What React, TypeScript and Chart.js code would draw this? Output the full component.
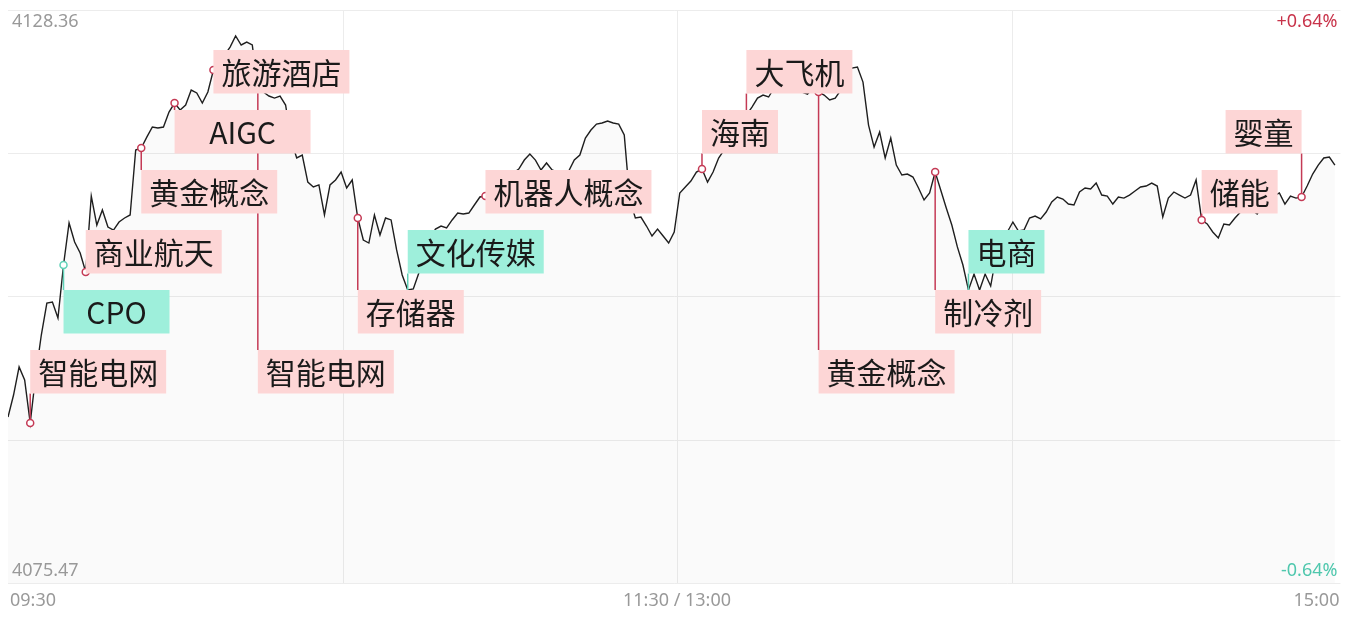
import React, { useEffect, useRef } from "react";
import { Chart, registerables } from "chart.js";

Chart.register(...registerables);

// ---------- data ----------
const Y_MIN = 4075.47;
const Y_MAX = 4128.36;
const X_SLOTS = 241;
const yGridValues = [4075.47, 4088.6925, 4101.915, 4115.1375, 4128.36];
const tickLabels = ["09:30", "11:30 / 13:00", "15:00"];
const topLeftLabel = "4128.36";
const bottomLeftLabel = "4075.47";
const topRightLabel = "+0.64%";
const bottomRightLabel = "-0.64%";

const prices = [
  4090.79, 4092.82, 4095.41, 4094.21, 4090.24, 4094.67, 4098.36, 4101.31, 4101.41, 4099.93,
  4104.82, 4108.70, 4106.95, 4105.93, 4104.17, 4111.19, 4108.51, 4109.90, 4108.33, 4108.05,
  4108.79, 4109.16, 4109.44, 4115.44, 4115.62, 4116.63, 4117.56, 4117.47, 4117.56, 4118.94,
  4119.77, 4119.13, 4119.59, 4120.97, 4120.70, 4119.77, 4120.79, 4122.82, 4123.56, 4124.20,
  4124.94, 4125.96, 4125.13, 4125.40, 4125.13, 4121.16, 4120.79, 4120.42, 4120.23, 4120.42,
  4119.59, 4116.36, 4114.70, 4114.97, 4112.48, 4112.02, 4112.21, 4109.44, 4112.21, 4112.67,
  4113.40, 4111.93, 4112.67, 4109.16, 4107.13, 4106.85, 4109.44, 4107.59, 4109.16, 4108.98,
  4106.21, 4103.90, 4102.51, 4102.61, 4104.08, 4105.74, 4107.31, 4108.14, 4108.42, 4108.24,
  4108.98, 4109.62, 4109.53, 4109.62, 4110.36, 4111.10, 4111.19, 4111.56, 4112.11, 4112.48,
  4112.85, 4113.31, 4113.68, 4114.51, 4115.07, 4114.51, 4113.59, 4114.24, 4113.59, 4113.40,
  4113.22, 4113.50, 4114.51, 4114.97, 4116.54, 4117.28, 4117.83, 4117.93, 4118.11, 4117.93,
  4117.83, 4116.82, 4110.82, 4109.16, 4109.25, 4108.42, 4107.50, 4108.14, 4107.50, 4106.85,
  4107.87, 4111.47, 4112.02, 4112.57, 4113.40, 4113.68, 4112.48, 4113.40, 4114.70, 4115.44,
  4116.36, 4117.28, 4118.20, 4118.66, 4119.40, 4120.23, 4120.51, 4120.33, 4121.16, 4121.43,
  4121.16, 4121.34, 4120.97, 4120.79, 4120.60, 4121.16, 4120.79, 4120.51, 4120.05, 4120.23,
  4120.97, 4121.90, 4123.00, 4123.10, 4121.71, 4117.74, 4115.71, 4117.10, 4114.70, 4116.54,
  4114.05, 4113.13, 4113.22, 4112.94, 4111.93, 4110.82, 4111.47, 4113.40, 4111.75, 4110.08,
  4108.51, 4106.49, 4104.82, 4102.51, 4103.99, 4102.51, 4103.99, 4102.88, 4105.74, 4107.13,
  4107.87, 4108.79, 4107.96, 4108.05, 4109.16, 4109.34, 4109.07, 4109.71, 4110.64, 4111.10,
  4110.91, 4110.45, 4110.36, 4111.56, 4111.93, 4111.84, 4112.39, 4111.28, 4111.19, 4110.45,
  4111.10, 4111.00, 4111.28, 4111.65, 4112.02, 4112.11, 4112.39, 4112.11, 4109.25, 4111.00,
  4111.56, 4111.28, 4111.00, 4111.28, 4112.67, 4108.98, 4108.61, 4107.87, 4107.31, 4108.61,
  4108.51, 4109.16, 4109.71, 4110.08, 4109.90, 4109.53, 4110.36, 4110.82, 4111.19, 4111.47,
  4110.45, 4111.19, 4111.00, 4111.10, 4112.11, 4113.22, 4114.05, 4114.70, 4114.79, 4114.05,
];

// event tags
const tagNames = [
  "智能电网", "CPO", "商业航天", "黄金概念", "AIGC", "旅游酒店", "智能电网", "存储器", "文化传媒",
  "机器人概念", "海南", "大飞机", "黄金概念", "制冷剂", "电商", "储能", "婴童",
];
const tagIndex = [4, 10, 14, 24, 30, 37, 45, 63, 72, 86, 125, 133, 146, 167, 173, 215, 233];
const tagKind = [
  "up", "down", "up", "up", "up", "up", "up", "up", "down",
  "up", "up", "up", "up", "up", "down", "up", "up",
];

// ---------- layout / style ----------
const tagRow = [5, 4, 3, 2, 1, 0, 5, 4, 3, 2, 1, 0, 5, 4, 3, 2, 1];
const tagAlignRight = [false, false, false, false, false, false, false, false, false, false, false, false, false, false, false, false, true];
const tagDot = [true, true, true, true, true, true, true, true, false, true, true, true, true, true, false, true, true];
const STYLE = {
  up: { box: "#fdd6d6", line: "#c43a55" },
  down: { box: "#9eefdb", line: "#5fd0b6" },
};

const tagPlugin = {
  id: "tags",
  beforeDatasetsDraw(chart: any) {
    const { ctx, chartArea: a, scales } = chart;
    const ys = scales.y;
    const xs = scales.x;
    const hRight = xs.getPixelForValue(X_SLOTS - 1);
    ctx.save();
    ctx.strokeStyle = "#ececec";
    ctx.lineWidth = 1;
    yGridValues.forEach((v) => {
      const y = Math.round(ys.getPixelForValue(v)) + 0.5;
      ctx.beginPath();
      ctx.moveTo(a.left, y);
      ctx.lineTo(hRight, y);
      ctx.stroke();
    });
    [1, 2, 3].forEach((k) => {
      const x = Math.round(a.left + (a.width * k) / 4) + 0.5;
      ctx.beginPath();
      ctx.moveTo(x, a.top);
      ctx.lineTo(x, a.bottom);
      ctx.stroke();
    });
    ctx.restore();
  },
  afterDatasetsDraw(chart: any) {
    const { ctx, chartArea: a, scales } = chart;
    const xs = scales.x, ys = scales.y;
    const boxH = 43.5;
    const geo = tagNames.map((name, k) => {
      const px = xs.getPixelForValue(tagIndex[k]);
      const py = ys.getPixelForValue(prices[tagIndex[k]]);
      const w = name.length * 30 + 16;
      const top = a.top + 40 + tagRow[k] * 60;
      const left = tagAlignRight[k] ? px - w : px;
      return { px, py, w, top, left };
    });
    ctx.save();
    geo.forEach((g, k) => {
      const st = (STYLE as any)[tagKind[k]];
      ctx.strokeStyle = st.line;
      ctx.lineWidth = 1.5;
      let y2: number | null = null;
      if (g.py > g.top + boxH) y2 = g.top + boxH;
      else if (g.py < g.top) y2 = g.top;
      if (y2 !== null) {
        ctx.beginPath();
        ctx.moveTo(g.px, g.py);
        ctx.lineTo(g.px, y2);
        ctx.stroke();
      }
    });
    geo.forEach((g, k) => {
      if (!tagDot[k]) return;
      const st = (STYLE as any)[tagKind[k]];
      ctx.beginPath();
      ctx.arc(g.px, g.py, 3.5, 0, Math.PI * 2);
      ctx.fillStyle = "#ffffff";
      ctx.fill();
      ctx.strokeStyle = st.line;
      ctx.lineWidth = 1.5;
      ctx.stroke();
    });
    ctx.font = '30px "Noto Sans CJK SC", "Noto Sans", sans-serif';
    ctx.textAlign = "center";
    ctx.textBaseline = "middle";
    geo.forEach((g, k) => {
      const st = (STYLE as any)[tagKind[k]];
      ctx.fillStyle = st.box;
      ctx.fillRect(g.left, g.top, g.w, boxH);
      ctx.fillStyle = "#1a1a1a";
      ctx.fillText(tagNames[k], g.left + g.w / 2, g.top + boxH / 2 + 1);
    });
    ctx.restore();
  },
  afterDraw(chart: any) {
    const { ctx, chartArea: a, scales } = chart;
    const xs = scales.x;
    const rightEdge = xs.getPixelForValue(X_SLOTS - 1);
    ctx.save();
    ctx.font = '18px "Noto Sans", sans-serif';
    ctx.textBaseline = "alphabetic";
    ctx.fillStyle = "#999999";
    ctx.textAlign = "left";
    ctx.fillText(topLeftLabel, a.left + 4, a.top + 17);
    ctx.fillText(bottomLeftLabel, a.left + 4, a.bottom - 7);
    ctx.textAlign = "right";
    ctx.fillStyle = "#c8334a";
    ctx.fillText(topRightLabel, rightEdge - 3, a.top + 17);
    ctx.fillStyle = "#4fc7ad";
    ctx.fillText(bottomRightLabel, rightEdge - 3, a.bottom - 7);
    ctx.fillStyle = "#999999";
    ctx.textAlign = "left";
    ctx.fillText(tickLabels[0], a.left + 2, a.bottom + 23);
    ctx.textAlign = "center";
    ctx.fillText(tickLabels[1], a.left + a.width / 2, a.bottom + 23);
    ctx.textAlign = "right";
    ctx.fillText(tickLabels[2], rightEdge - 1, a.bottom + 23);
    ctx.restore();
  },
};

export default function App() {
  const ref = useRef<HTMLCanvasElement | null>(null);
  useEffect(() => {
    if (!ref.current) return;
    const chart = new Chart(ref.current, {
      type: "line",
      data: {
        datasets: [
          {
            data: prices.map((v, i) => ({ x: i, y: v })),
            borderColor: "#1e1e1e",
            borderWidth: 1.4,
            pointRadius: 0,
            tension: 0,
            fill: "start",
            backgroundColor: "rgba(0,0,0,0.018)",
          },
        ],
      },
      options: {
        responsive: false,
        animation: false,
        devicePixelRatio: 1,
        layout: { padding: { left: 8, right: 1, top: 10, bottom: 35 } },
        plugins: { legend: { display: false }, tooltip: { enabled: false } },
        scales: {
          x: { type: "linear", display: false, min: 0, max: X_SLOTS },
          y: { display: false, min: Y_MIN, max: Y_MAX },
        },
      },
      plugins: [tagPlugin],
    });
    return () => chart.destroy();
  }, []);
  return (
    <div style={{ position: "fixed", left: 0, top: 0, width: 1347, height: 618, background: "#fff" }}>
      <canvas ref={ref} width={1347} height={618} />
    </div>
  );
}
